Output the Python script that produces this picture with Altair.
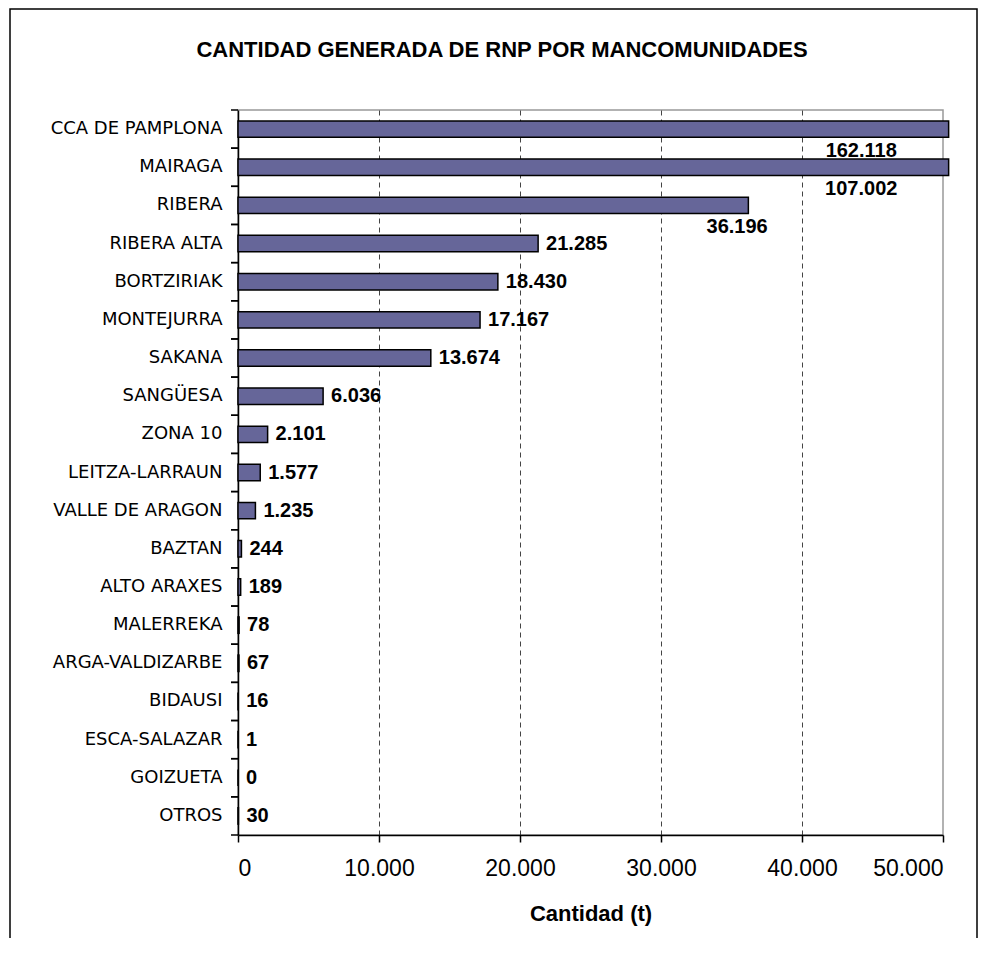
import altair as alt
import pandas as pd

categories = ["CCA DE PAMPLONA", "MAIRAGA", "RIBERA", "RIBERA ALTA", "BORTZIRIAK",
              "MONTEJURRA", "SAKANA", "SANGÜESA", "ZONA 10", "LEITZA-LARRAUN",
              "VALLE DE ARAGON", "BAZTAN", "ALTO ARAXES", "MALERREKA",
              "ARGA-VALDIZARBE", "BIDAUSI", "ESCA-SALAZAR", "GOIZUETA", "OTROS"]
values = [162118, 107002, 36196, 21285, 18430, 17167, 13674, 6036, 2101, 1577,
          1235, 244, 189, 78, 67, 16, 1, 0, 30]
x_ticks = [0, 10000, 20000, 30000, 40000, 50000]

title_text = "CANTIDAD GENERADA DE RNP POR MANCOMUNIDADES"
x_title = "Cantidad (t)"

df = pd.DataFrame({
    "cat": categories,
    "value": values,
    "label": [f"{v:,}".replace(",", ".") for v in values],
})
one = pd.DataFrame({"a": [0]})

W, H = 705, 725
xscale = alt.Scale(domain=[0, 50000], nice=False, zero=True)
yscale = alt.Scale(paddingInner=0, paddingOuter=0)
ysort = categories

x_axis = alt.Axis(
    values=x_ticks, title=x_title,
    labelExpr="replace(format(datum.value, ',d'), ',', '.')",
    labelFont="Liberation Sans", labelFontSize=23, labelColor="black",
    labelPadding=15,
    titleFont="Liberation Sans", titleFontSize=22, titleFontWeight="bold",
    titleColor="black", titlePadding=23,
    tickColor="black", tickSize=7, tickWidth=1.5,
    domainColor="black", domainWidth=1.5,
    grid=True, gridColor="#444444", gridWidth=1, gridDash=[5, 4],
    gridOpacity={"condition": {"test": "datum.value == 0 || datum.value == 50000",
                               "value": 0}, "value": 1},
)
y_axis = alt.Axis(
    title=None, ticks=False, domainColor="black", domainWidth=1.5,
    labelFont="DejaVu Sans", labelFontSize=18, labelColor="black",
    labelPadding=16, labelLimit=400, grid=False,
)

bars = alt.Chart(df).transform_calculate(
    vclip="min(datum.value, 50400)"
).mark_bar(fill="#666699", stroke="black", strokeWidth=1.5,
           height={"band": 0.43}).encode(
    x=alt.X("vclip:Q", scale=xscale, axis=x_axis),
    y=alt.Y("cat:N", sort=ysort, scale=yscale, axis=y_axis),
)

ytick_top = alt.Chart(df).mark_rule(color="black", strokeWidth=1.5).encode(
    y=alt.Y("cat:N", sort=ysort, scale=yscale, bandPosition=0),
    x=alt.value(-7), x2=alt.value(0),
)
ytick_bottom = alt.Chart(df).mark_rule(color="black", strokeWidth=1.5).encode(
    y=alt.Y("cat:N", sort=ysort, scale=yscale, bandPosition=1),
    x=alt.value(-7), x2=alt.value(0),
)

labels = alt.Chart(df).transform_filter("datum.value <= 30000").mark_text(
    align="left", baseline="middle", dx=8, font="Liberation Sans",
    fontSize=20, fontWeight="bold", color="black"
).encode(
    x=alt.X("value:Q", scale=xscale),
    y=alt.Y("cat:N", sort=ysort, scale=yscale),
    text="label:N",
)

over_labels = alt.Chart(df).transform_filter("datum.value > 30000").transform_calculate(
    lx="datum.value > 50000 ? 44200 : datum.value - 800"
).mark_text(
    align="center", baseline="middle", dy=22, font="Liberation Sans",
    fontSize=20, fontWeight="bold", color="black"
).encode(
    x=alt.X("lx:Q", scale=xscale),
    y=alt.Y("cat:N", sort=ysort, scale=yscale),
    text="label:N",
)

title = alt.Chart(one).mark_text(
    align="center", baseline="middle", font="Liberation Sans",
    fontSize=22, fontWeight="bold", color="black"
).encode(x=alt.value(264), y=alt.value(-60), text=alt.value(title_text))

frame = alt.Chart(one).mark_rect(
    fill="white", fillOpacity=0, stroke="black", strokeWidth=1.5
).encode(x=alt.value(-228), x2=alt.value(739), y=alt.value(-101), y2=alt.value(900))

chart = alt.layer(frame, bars, ytick_top, ytick_bottom, labels, over_labels, title).properties(
    width=W, height=H,
    autosize=alt.AutoSizeParams(type="none"),
    padding={"left": 230, "top": 102, "right": 35, "bottom": 103},
    background="white",
).configure_view(stroke="#999999", strokeWidth=1.5)

chart.save("out.html", embed_options={"renderer": "svg", "actions": False})
